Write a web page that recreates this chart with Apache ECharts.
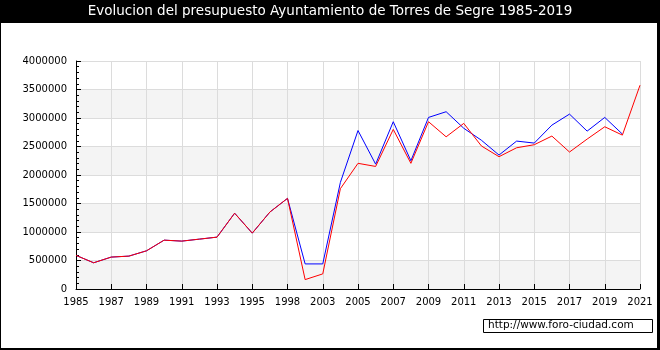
<!DOCTYPE html>
<html>
<head>
<meta charset="utf-8">
<script src="https://cdn.jsdelivr.net/npm/echarts@6/dist/echarts.min.js"></script>
<style>
html,body{margin:0;padding:0;background:#000;}
#chart{width:660px;height:350px;}
</style>
</head>
<body>
<div id="chart"></div>
<script>
var titleText = 'Evolucion del presupuesto Ayuntamiento de Torres de Segre 1985-2019';
var watermark = 'http://www.foro-ciudad.com';
var years = ['1985','1986','1987','1988','1989','1990','1991','1992','1993','1994','1995','1996','1998','2001','2003','2004','2005','2006','2007','2008','2009','2010','2011','2012','2013','2014','2015','2016','2017','2018','2019','2020','2021'];
var blueValues = [590000,460000,560000,577000,670000,857000,840000,875000,910000,1330000,980000,1350000,1590000,440000,440000,1870000,2780000,2190000,2935000,2250000,3010000,3110000,2820000,2610000,2350000,2595000,2560000,2875000,3068000,2770000,3010000,2718000,null];
var redValues = [590000,460000,560000,577000,670000,857000,840000,875000,910000,1330000,980000,1350000,1590000,165000,265000,1760000,2205000,2150000,2800000,2205000,2935000,2670000,2905000,2510000,2321000,2478000,2531000,2683000,2403000,2630000,2846000,2700000,3575000];
var yTicks = {min: 0, max: 4000000, interval: 500000};

var chart = echarts.init(document.getElementById('chart'), null, {renderer: 'canvas'});
var font = 'DejaVu Sans';
chart.setOption({
  backgroundColor: '#000',
  animation: false,
  graphic: [
    {type: 'rect', z: -10, shape: {x: 1, y: 23, width: 656, height: 325}, style: {fill: '#fff'}},
    {type: 'text', left: 'center', top: 4, style: {text: titleText, fill: '#fff', font: '13.5px "DejaVu Sans"'}},
    {type: 'rect', z: 10, shape: {x: 483.5, y: 319.5, width: 169, height: 13}, style: {fill: '#fff', stroke: '#000', lineWidth: 1}},
    {type: 'text', z: 11, left: 488, top: 320, style: {text: watermark, fill: '#000', font: '10.5px "DejaVu Sans"'}}
  ],
  grid: {left: 76, right: 20, top: 61, bottom: 61, containLabel: false},
  xAxis: {
    type: 'category',
    data: years,
    boundaryGap: false,
    axisLine: {lineStyle: {color: '#000', width: 1}},
    axisTick: {inside: true, length: 5, interval: 1, lineStyle: {color: '#000'}},
    axisLabel: {interval: 1, color: '#000', fontFamily: font, fontSize: 10, margin: 8},
    splitLine: {show: true, interval: 1, lineStyle: {color: '#dcdcdc', width: 1}}
  },
  yAxis: {
    type: 'value',
    min: yTicks.min, max: yTicks.max, interval: yTicks.interval,
    axisLine: {show: true, lineStyle: {color: '#000', width: 1}},
    axisTick: {show: true, inside: true, length: 5, lineStyle: {color: '#000'}},
    minorTick: {show: true, splitNumber: 5, length: 3, lineStyle: {color: '#000'}},
    axisLabel: {color: '#000', fontFamily: font, fontSize: 10, margin: 9, formatter: function (v) { return String(v); }},
    splitLine: {show: true, lineStyle: {color: '#dcdcdc', width: 1}},
    splitArea: {show: true, areaStyle: {color: ['#f4f4f4', '#ffffff']}}
  },
  series: [
    {type: 'line', data: blueValues, symbol: 'none', lineStyle: {color: '#0000ff', width: 1}, itemStyle: {color: '#0000ff'}, connectNulls: false},
    {type: 'line', data: redValues, symbol: 'none', lineStyle: {color: '#ff0000', width: 1}, itemStyle: {color: '#ff0000'}}
  ]
});
</script>
</body>
</html>
